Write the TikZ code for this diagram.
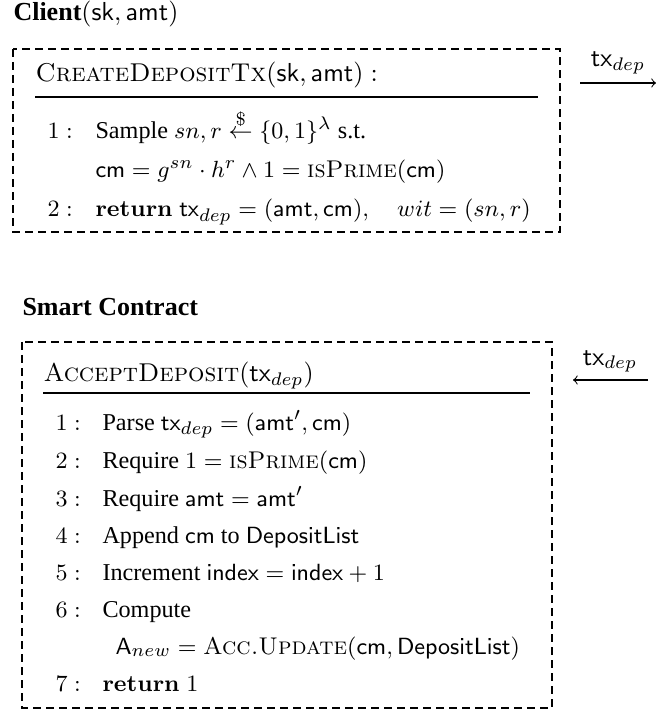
\documentclass[tikz,border=0pt]{standalone}
\usepackage{amsmath}
\usepackage[no-math]{fontspec}
\setmainfont{Liberation Serif}
\newcommand\lmsc[1]{{\fontfamily{lmr}\selectfont\scshape #1}}
\begin{document}
\begin{tikzpicture}[x=0.3846pt,y=-0.3846pt,
  txt/.style={anchor=base west, inner sep=0pt, font=\fontsize{9.3}{11}\selectfont},
  hdr/.style={anchor=base west, inner sep=0pt, font=\fontsize{9.9}{12}\selectfont},
  ttl/.style={anchor=base west, inner sep=0pt, font=\fontsize{10}{12}\selectfont},
  lbl/.style={anchor=base, inner sep=0pt, font=\fontsize{10}{12}\selectfont},
  procbox/.style={draw, line width=0.4pt, dash pattern=on 3pt off 2pt},
  rule/.style={draw, line width=0.4pt},
  msg/.style={->, line width=0.4pt}]
\useasboundingbox (0,0) rectangle (656,713);

% ---------- Client ----------
\node[ttl] (t1) at (13,21) {\textbf{Client}$(\mathsf{sk},\mathsf{amt})$};
\draw[procbox] (13,49) coordinate (b1nw) rectangle (560,232) coordinate (b1se);
\node[hdr] (h1) at (35,82) {\lmsc{CreateDepositTx}$(\mathsf{sk},\mathsf{amt}):$};
\coordinate (u1a) at (35,97); \coordinate (u1b) at (538,97);
\draw[rule] (u1a) -- (u1b);
\node[txt] (n11) at (47,139) {$1:$};
\node[txt] (c11) at (95,139) {Sample $sn, r \overset{\$}{\leftarrow} \{0,1\}^{\lambda}$ s.t.};
\node[txt] (c12) at (95,178) {$\mathsf{cm} = g^{sn}\cdot h^{r} \wedge 1 = \mbox{\lmsc{isPrime}}(\mathsf{cm})$};
\node[txt] (n12) at (47,217) {$2:$};
\node[txt] (c13) at (95,217) {$\mathbf{return}\;\mathsf{tx}_{dep} = (\mathsf{amt},\mathsf{cm}),\quad wit = (sn, r)$};

\coordinate (a1s) at (580,83); \coordinate (a1e) at (656,83);
\draw[msg] (a1s) -- (a1e);
\node[lbl] (l1) at (618,67) {$\mathsf{tx}_{dep}$};

% ---------- Smart Contract ----------
\node[ttl] (t2) at (22,316) {\textbf{Smart Contract}};
\draw[procbox] (22,342) coordinate (b2nw) rectangle (552,708) coordinate (b2se);
\node[hdr] (h2) at (43,382) {\lmsc{AcceptDeposit}$(\mathsf{tx}_{dep})$};
\coordinate (u2a) at (43,393); \coordinate (u2b) at (530,393);
\draw[rule] (u2a) -- (u2b);
\node[txt] (n21) at (55,430) {$1:$};
\node[txt] (c21) at (102,430) {Parse $\mathsf{tx}_{dep} = (\mathsf{amt}',\mathsf{cm})$};
\node[txt] (n22) at (55,468) {$2:$};
\node[txt] (c22) at (102,468) {Require $1 = \mbox{\lmsc{isPrime}}(\mathsf{cm})$};
\node[txt] (n23) at (55,506) {$3:$};
\node[txt] (c23) at (102,506) {Require $\mathsf{amt} = \mathsf{amt}'$};
\node[txt] (n24) at (55,543) {$4:$};
\node[txt] (c24) at (102,543) {Append $\mathsf{cm}$ to $\mathsf{DepositList}$};
\node[txt] (n25) at (55,580) {$5:$};
\node[txt] (c25) at (102,580) {Increment $\mathsf{index} = \mathsf{index} + 1$};
\node[txt] (n26) at (55,617) {$6:$};
\node[txt] (c26) at (102,617) {Compute};
\node[txt] (c27) at (115,654) {$\mathsf{A}_{new} = \mbox{\lmsc{Acc.Update}}(\mathsf{cm},\mathsf{DepositList})$};
\node[txt] (n27) at (55,691) {$7:$};
\node[txt] (c28) at (102,691) {$\mathbf{return}\;1$};

\coordinate (a2s) at (648,380); \coordinate (a2e) at (573,380);
\draw[msg] (a2s) -- (a2e);
\node[lbl] (l2) at (610,365) {$\mathsf{tx}_{dep}$};
\end{tikzpicture}
\end{document}
